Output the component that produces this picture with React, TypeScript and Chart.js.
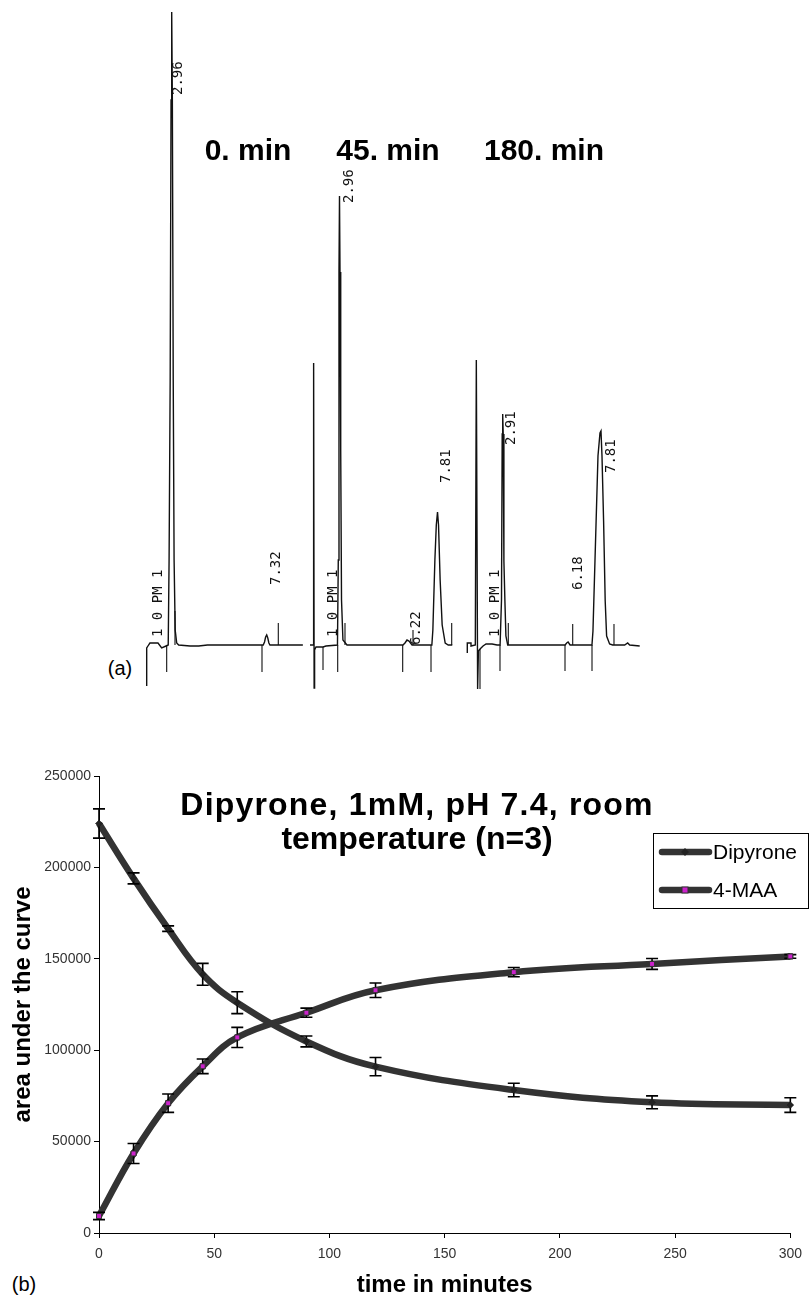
import React, { useEffect, useRef } from 'react';
import { Chart, registerables } from 'chart.js';
Chart.register(...registerables);

const FONT = "'Liberation Sans', Arial, Helvetica, sans-serif";
const MONO = "'DejaVu Sans Mono', 'Liberation Mono', monospace";

// ---------- Panel (b): kinetics ----------
const times = [0, 15, 30, 45, 60, 90, 120, 180, 240, 300];
const dipyrone = [224000, 194000, 166500, 141500, 126000, 104800, 91000, 78200, 71500, 70000];
const dipyroneSD = [8000, 3000, 1500, 6000, 6000, 3000, 5000, 3700, 3500, 4000];
const maa = [9300, 43500, 71000, 91200, 107000, 120500, 132800, 142700, 147200, 151300];
const maaSD = [2000, 5500, 5000, 4000, 5500, 2500, 4000, 2500, 3000, 1000];
const seriesNames = ['Dipyrone', '4-MAA'];
const titleLines = ['Dipyrone, 1mM, pH 7.4, room', 'temperature (n=3)'];

// ---------- Panel (a): chromatograms (time in min, detector signal) ----------
const chrom1Trace = [[1.812,-41],[1.812,-3],[1.87,-1],[1.96,2],[2.10,2],[2.33,2],[2.50,-3],[2.70,-1],[2.80,0],[2.84,85],[2.89,265],[2.93,545],[2.96,633],[2.99,545],[3.03,265],[3.07,85],[3.12,15],[3.19,2],[3.28,0],[3.80,-1],[4.20,-1],[4.60,0],[7.16,0],[7.22,3],[7.27,8],[7.32,10],[7.37,7],[7.42,2],[7.47,0],[8.98,0]];
const chrom1Marks = [[2.73,0,-27],[7.104,0,-27],[3.111,0,34],[7.852,0,22]];
const chrom1Labels = [{ text: '2.96', t: 3.249, s: 550 }, { text: '7.32', t: 7.779, s: 60 }, { text: '1 0 PM 1', t: 2.331, s: 8 }];

const chrom2Trace = [[1.50,0],[1.665,0],[1.680,282],[1.705,-43],[1.728,-5],[1.797,-2],[2.144,-2],[2.292,-1],[2.86,0],[2.90,85],[2.935,373],[2.96,449],[2.985,373],[3.02,195],[3.06,45],[3.13,5],[3.33,0],[6.10,0],[6.20,2],[6.30,5],[6.40,4],[6.55,0],[7.53,0],[7.58,15],[7.68,85],[7.75,120],[7.81,133],[7.86,120],[7.94,65],[8.04,20],[8.19,2],[8.34,0],[8.54,0]];
const chrom2Marks = [[2.144,-2,-25],[2.871,0,-27],[6.087,0,-27],[7.488,0,-27],[3.232,0,22],[6.597,0,15],[8.512,0,22]];
const chrom2Labels = [{ text: '2.96', t: 3.43, s: 442 }, { text: '6.22', t: 6.78, s: 0 }, { text: '7.81', t: 8.264, s: 162 }, { text: '1 0 PM 1', t: 2.638, s: 8 }];

const chrom3Trace = [[1.145,-8],[1.145,2],[1.33,2],[1.33,-1],[1.545,0],[1.595,285],[1.66,-44],[1.70,-6],[1.78,-4],[1.93,-1],[2.08,1],[2.38,1],[2.63,0],[2.78,0],[2.85,45],[2.885,211],[2.91,231],[2.935,211],[2.97,84],[3.02,44],[3.07,9],[3.16,0],[6.02,0],[6.10,2],[6.17,3],[6.27,0],[7.36,0],[7.41,14],[7.51,84],[7.66,189],[7.76,212],[7.81,214],[7.86,189],[7.94,124],[8.02,44],[8.09,9],[8.24,1],[8.39,0],[8.99,0],[9.14,2],[9.24,0],[9.74,-1]];
const chrom3Marks = [[1.778,-4,-44],[2.775,0,-26],[6.016,0,-26],[7.362,0,-26],[3.189,0,22],[6.40,0,21],[8.458,0,21]];
const chrom3Labels = [{ text: '2.91', t: 3.359, s: 200 }, { text: '6.18', t: 6.664, s: 55 }, { text: '7.81', t: 8.344, s: 172 }, { text: '1 0 PM 1', t: 2.526, s: 8 }];

const chromTitles = ['0. min', '45. min', '180. min'];

const chroms = [
  { trace: chrom1Trace, marks: chrom1Marks, labels: chrom1Labels, xmin: 1.505, xmax: 9.307, left: 140, width: 170 },
  { trace: chrom2Trace, marks: chrom2Marks, labels: chrom2Labels, xmin: 1.253, xmax: 9.170, left: 305, width: 160 },
  { trace: chrom3Trace, marks: chrom3Marks, labels: chrom3Labels, xmin: 0.881, xmax: 10.353, left: 462, width: 190 },
];

function chromConfig(c: any): any {
  const traceData = c.trace.map(([x, y]: number[]) => ({ x, y }));
  const markData: any[] = [];
  c.marks.forEach(([t, a, b]: number[]) => {
    markData.push({ x: t, y: a }, { x: t, y: b }, { x: t, y: null });
  });
  const labelPlugin = {
    id: 'peakLabels',
    afterDatasetsDraw(chart: any) {
      const { ctx, scales } = chart;
      ctx.save();
      ctx.fillStyle = '#111';
      ctx.font = `14px ${MONO}`;
      ctx.textAlign = 'left';
      ctx.textBaseline = 'middle';
      c.labels.forEach((l: any) => {
        const px = scales.x.getPixelForValue(l.t);
        const py = scales.y.getPixelForValue(l.s);
        ctx.save();
        ctx.translate(px, py);
        ctx.rotate(-Math.PI / 2);
        ctx.fillText(l.text, 0, 0);
        ctx.restore();
      });
      ctx.restore();
    },
  };
  return {
    type: 'line',
    data: {
      datasets: [
        { data: traceData, borderColor: '#111', borderWidth: 1.4, pointRadius: 0, tension: 0, fill: false },
        { data: markData, borderColor: '#111', borderWidth: 1.1, pointRadius: 0, tension: 0, spanGaps: false, fill: false },
      ],
    },
    options: {
      animation: false,
      responsive: false,
      maintainAspectRatio: false,
      events: [],
      layout: { padding: 0 },
      plugins: { legend: { display: false }, tooltip: { enabled: false }, title: { display: false } },
      scales: {
        x: { type: 'linear', min: c.xmin, max: c.xmax, display: false },
        y: { type: 'linear', min: -55, max: 645, display: false },
      },
    },
    plugins: [labelPlugin],
  };
}

function ChromCanvas({ c }: { c: any }) {
  const ref = useRef<HTMLCanvasElement>(null);
  useEffect(() => {
    if (!ref.current) return;
    const chart = new Chart(ref.current, chromConfig(c));
    return () => chart.destroy();
  }, []);
  return (
    <canvas
      ref={ref}
      width={c.width}
      height={700}
      style={{ position: 'absolute', left: c.left, top: 0, width: c.width, height: 700 }}
    />
  );
}

const errorBarPlugin = {
  id: 'errorBars',
  afterDatasetsDraw(chart: any) {
    const { ctx, scales } = chart;
    const x = scales.x, y = scales.y;
    ctx.save();
    ctx.strokeStyle = '#000';
    ctx.lineWidth = 1.6;
    const sets: [number[], number[]][] = [[dipyrone, dipyroneSD], [maa, maaSD]];
    sets.forEach(([m, sd]) => {
      times.forEach((t, i) => {
        const px = x.getPixelForValue(t);
        const top = y.getPixelForValue(m[i] + sd[i]);
        const bot = y.getPixelForValue(m[i] - sd[i]);
        ctx.beginPath();
        ctx.moveTo(px, top); ctx.lineTo(px, bot);
        ctx.moveTo(px - 6, top); ctx.lineTo(px + 6, top);
        ctx.moveTo(px - 6, bot); ctx.lineTo(px + 6, bot);
        ctx.stroke();
      });
    });
    ctx.restore();
    chart.data.datasets.forEach((_d: any, i: number) => {
      const meta = chart.getDatasetMeta(i);
      meta.data.forEach((p: any) => p.draw(ctx, chart.chartArea));
    });
  },
};

const titleLegendPlugin = {
  id: 'titleLegend',
  afterDraw(chart: any) {
    const { ctx } = chart;
    ctx.save();
    ctx.fillStyle = '#000';
    ctx.font = `bold 32px ${FONT}`;
    ctx.textAlign = 'center';
    ctx.textBaseline = 'alphabetic';
    (ctx as any).letterSpacing = '1.2px';
    ctx.fillText(titleLines[0], 417, 115);
    (ctx as any).letterSpacing = '0px';
    ctx.fillText(titleLines[1], 417, 149);

    // legend
    const bx = 653, by = 133, bw = 155, bh = 75;
    ctx.fillStyle = '#fff';
    ctx.fillRect(bx, by, bw, bh);
    ctx.strokeStyle = '#000';
    ctx.lineWidth = 1;
    ctx.strokeRect(bx + 0.5, by + 0.5, bw, bh);
    const rows = [by + 19, by + 57];
    chart.data.datasets.forEach((ds: any, i: number) => {
      const yy = rows[i];
      ctx.strokeStyle = ds.borderColor;
      ctx.lineWidth = ds.borderWidth;
      ctx.lineCap = 'round';
      ctx.beginPath();
      ctx.moveTo(662, yy);
      ctx.lineTo(709, yy);
      ctx.stroke();
      ctx.fillStyle = ds.pointBackgroundColor;
      ctx.strokeStyle = ds.pointBorderColor;
      ctx.lineWidth = 1;
      if (i === 0) {
        ctx.beginPath();
        ctx.moveTo(685, yy - 4); ctx.lineTo(689, yy); ctx.lineTo(685, yy + 4); ctx.lineTo(681, yy);
        ctx.closePath(); ctx.fill();
      } else {
        ctx.fillRect(682, yy - 3, 6, 6);
        ctx.strokeRect(682, yy - 3, 6, 6);
      }
      ctx.fillStyle = '#000';
      ctx.font = `21px ${FONT}`;
      ctx.textAlign = 'left';
      ctx.textBaseline = 'middle';
      ctx.fillText(seriesNames[i], 713, yy + 1);
    });
    ctx.restore();
  },
};

function KineticsChart() {
  const ref = useRef<HTMLCanvasElement>(null);
  useEffect(() => {
    if (!ref.current) return;
    const chart = new Chart(ref.current, {
      type: 'line',
      data: {
        datasets: [
          {
            label: seriesNames[0],
            data: times.map((t, i) => ({ x: t, y: dipyrone[i] })),
            borderColor: '#333',
            borderWidth: 6.5,
            tension: 0.4,
            pointStyle: 'rectRot',
            pointRadius: 3,
            pointBackgroundColor: '#222',
            pointBorderColor: '#222',
            pointBorderWidth: 1,
            clip: false,
          },
          {
            label: seriesNames[1],
            data: times.map((t, i) => ({ x: t, y: maa[i] })),
            borderColor: '#333',
            borderWidth: 6.5,
            tension: 0.4,
            pointStyle: 'rect',
            pointRadius: 3.5,
            pointBackgroundColor: '#cc22cc',
            pointBorderColor: '#333',
            pointBorderWidth: 1,
            clip: false,
          },
        ],
      },
      options: {
        animation: false,
        responsive: false,
        maintainAspectRatio: false,
        events: [],
        layout: { padding: { top: 76, right: 16, left: 0, bottom: 0 } },
        plugins: { legend: { display: false }, tooltip: { enabled: false }, title: { display: false } },
        scales: {
          x: {
            type: 'linear',
            min: 0,
            max: 300,
            afterFit: (s: any) => { s.height = 65; },
            ticks: { stepSize: 50, color: '#333', font: { family: FONT, size: 14 }, padding: 8, maxRotation: 0 },
            grid: { drawOnChartArea: false, drawTicks: true, tickLength: 5, color: '#000' },
            border: { display: true, color: '#000', width: 1 },
            title: { display: true, text: 'time in minutes', color: '#000', font: { family: FONT, size: 24, weight: 'bold', lineHeight: 1 }, padding: { top: 0, bottom: 1 } },
          },
          y: {
            type: 'linear',
            min: 0,
            max: 250000,
            afterFit: (s: any) => { s.width = 99; },
            ticks: { stepSize: 50000, color: '#333', font: { family: FONT, size: 14 }, padding: 3, callback: (v: any) => String(v) },
            grid: { drawOnChartArea: false, drawTicks: true, tickLength: 5, color: '#000' },
            border: { display: true, color: '#000', width: 1 },
            title: { display: true, text: 'area under the curve', color: '#000', font: { family: FONT, size: 24, weight: 'bold', lineHeight: 1.2 }, padding: { top: 9, bottom: 0 } },
          },
        },
      },
      plugins: [errorBarPlugin, titleLegendPlugin],
    } as any);
    return () => chart.destroy();
  }, []);
  return (
    <canvas
      ref={ref}
      width={810}
      height={598}
      style={{ position: 'absolute', left: 0, top: 700, width: 810, height: 598 }}
    />
  );
}

const chromTitleX = [248, 388, 544];

export default function App() {
  useEffect(() => {
    document.body.style.margin = '0';
  }, []);
  const textBase: React.CSSProperties = {
    position: 'absolute',
    transform: 'translate(-50%, -50%)',
    lineHeight: 1,
    whiteSpace: 'nowrap',
    fontFamily: FONT,
    color: '#000',
  };
  return (
    <div style={{ position: 'relative', width: 810, height: 1298, background: '#fff', overflow: 'hidden' }}>
      <style>{'body{margin:0}'}</style>
      {chroms.map((c, i) => (
        <ChromCanvas key={i} c={c} />
      ))}
      {chromTitles.map((t, i) => (
        <div key={t} style={{ ...textBase, left: chromTitleX[i], top: 150, fontSize: 30, fontWeight: 'bold' }}>{t}</div>
      ))}
      <div style={{ ...textBase, left: 120, top: 668, fontSize: 20 }}>(a)</div>
      <div style={{ ...textBase, left: 24, top: 1284, fontSize: 20 }}>(b)</div>
      <KineticsChart />
    </div>
  );
}
